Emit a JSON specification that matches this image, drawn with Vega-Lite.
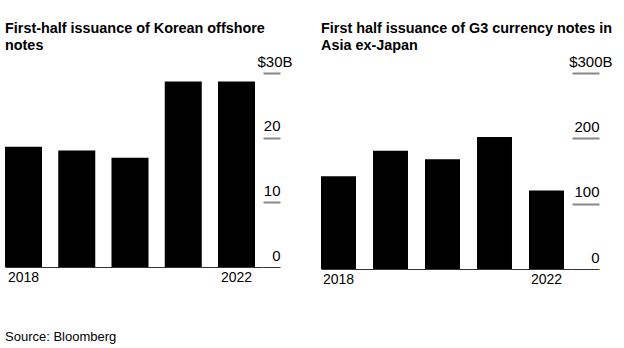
{
  "$schema": "https://vega.github.io/schema/vega-lite/v6.json",
  "padding": {"left": 5, "top": 20, "right": 5, "bottom": 5},
  "config": {
    "view": {"stroke": null},
    "font": "Liberation Sans",
    "axis": {"labelFont": "Liberation Sans", "labelColor": "#000", "grid": false},
    "title": {"font": "Liberation Sans"}
  },
  "datasets": {
    "korea": [
      {"year": "2018", "value": 18.6},
      {"year": "2019", "value": 18.0},
      {"year": "2020", "value": 16.9},
      {"year": "2021", "value": 28.7},
      {"year": "2022", "value": 28.7}
    ],
    "asia": [
      {"year": "2018", "value": 142},
      {"year": "2019", "value": 181},
      {"year": "2020", "value": 168},
      {"year": "2021", "value": 202},
      {"year": "2022", "value": 120}
    ]
  },
  "title": {
    "text": "Source: Bloomberg",
    "orient": "bottom",
    "anchor": "start",
    "frame": "bounds",
    "fontSize": 13,
    "fontWeight": "normal",
    "color": "#000",
    "offset": 45
  },
  "spacing": 29,
  "hconcat": [
    {
      "width": 258,
      "height": 194,
      "title": {
        "text": ["First-half issuance of Korean offshore", "notes"],
        "anchor": "start",
        "frame": "group",
        "fontSize": 14.4,
        "fontWeight": "bold",
        "color": "#000",
        "lineHeight": 17,
        "offset": 1
      },
      "data": {"name": "korea"},
      "mark": {"type": "bar", "color": "#000"},
      "encoding": {
        "x": {
          "field": "year",
          "type": "ordinal",
          "scale": {"paddingInner": 0.305, "paddingOuter": 0.075, "align": 0},
          "axis": {
            "title": null,
            "values": ["2018", "2022"],
            "ticks": false,
            "labelAngle": 0,
            "labelPadding": 3,
            "labelFontSize": 14,
            "domainColor": "#333",
            "domainWidth": 1
          }
        },
        "y": {
          "field": "value",
          "type": "quantitative",
          "scale": {"domain": [0, 30], "nice": false},
          "axis": {
            "title": null,
            "orient": "right",
            "domain": false,
            "values": [0, 10, 20, 30],
            "tickSize": 17,
            "tickColor": {"condition": {"test": "datum.value == 0", "value": "#333"}, "value": "#888"},
            "tickWidth": {"condition": {"test": "datum.value == 0", "value": 1}, "value": 2},
            "labelAlign": "right",
            "labelBaseline": "alphabetic",
            "labelOffset": -7,
            "labelPadding": {"condition": {"test": "datum.value == 30", "value": 12}, "value": 0},
            "labelFontSize": 15,
            "labelExpr": "datum.value == 30 ? '$30B' : datum.label"
          }
        }
      }
    },
    {
      "width": 251,
      "height": 196,
      "title": {
        "text": ["First half issuance of G3 currency notes in", "Asia ex-Japan"],
        "anchor": "start",
        "frame": "group",
        "fontSize": 14.4,
        "fontWeight": "bold",
        "color": "#000",
        "lineHeight": 17,
        "offset": 1
      },
      "data": {"name": "asia"},
      "mark": {"type": "bar", "color": "#000"},
      "encoding": {
        "x": {
          "field": "year",
          "type": "ordinal",
          "scale": {"paddingInner": 0.327, "paddingOuter": 0.077, "align": 0},
          "axis": {
            "title": null,
            "values": ["2018", "2022"],
            "ticks": false,
            "labelAngle": 0,
            "labelPadding": 3,
            "labelFontSize": 14,
            "domainColor": "#333",
            "domainWidth": 1
          }
        },
        "y": {
          "field": "value",
          "type": "quantitative",
          "scale": {"domain": [0, 300], "nice": false},
          "axis": {
            "title": null,
            "orient": "right",
            "domain": false,
            "values": [0, 100, 200, 300],
            "tickSize": 27,
            "tickColor": {"condition": {"test": "datum.value == 0", "value": "#333"}, "value": "#888"},
            "tickWidth": {"condition": {"test": "datum.value == 0", "value": 1}, "value": 2},
            "labelAlign": "right",
            "labelBaseline": "alphabetic",
            "labelOffset": -7,
            "labelPadding": {"condition": {"test": "datum.value == 300", "value": 13}, "value": 0},
            "labelFontSize": 15,
            "labelExpr": "datum.value == 300 ? '$300B' : datum.label"
          }
        }
      }
    }
  ]
}
